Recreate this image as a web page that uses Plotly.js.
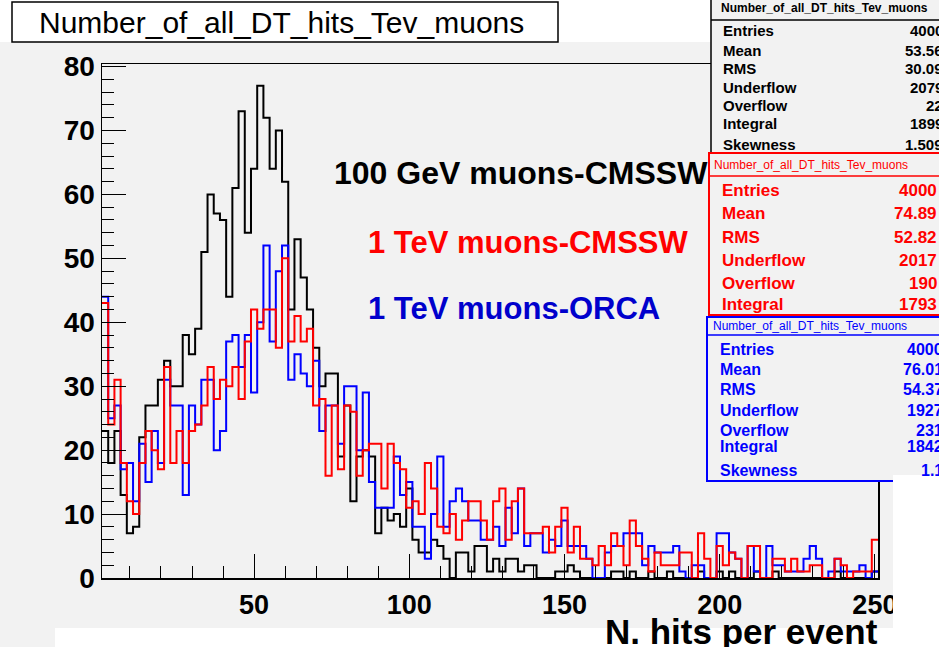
<!DOCTYPE html>
<html>
<head>
<meta charset="utf-8">
<script src="https://cdn.plot.ly/plotly-3.0.1.min.js"></script>
<style>html,body{margin:0;padding:0;background:#f2f2f2;}#chart{width:939px;height:647px;}</style>
</head>
<body>
<div id="chart"></div>
<script>
// ---- data: histogram of N. hits per event, 125 bins of width 2 starting at 1 ----
const binLow = 1;
const binWidth = 2;
const series100GeVCMSSW = [
  23,18,23,13,7,8,22,27,27,31,34,30,30,38,35,39,51,60,57,56,44,
  61,73,54,64,77,72,64,70,62,42,53,47,42,36,30,32,32,19,27,12,
  19,20,19,7,11,9,10,8,14,6,4,4,6,5,3,0,4,4,1,5,
  5,1,3,1,3,3,1,2,2,0,0,0,1,1,2,1,0,0,0,0,
  0,1,1,0,1,0,0,1,0,0,1,0,0,0,0,1,0,0,1,0,
  1,0,0,0,1,0,0,1,0,0,0,0,0,0,0,0,0,1,0,0,0,0,0,1
];
const series1TeVCMSSW = [
  43,24,31,18,12,10,18,23,20,17,33,18,23,18,23,24,27,33,28,31,30,
  33,28,37,42,39,42,42,36,50,37,41,37,39,27,28,16,27,17,27,26,
  16,20,21,21,14,21,18,17,11,12,10,18,14,8,7,10,6,9,12,12,
  9,6,12,14,6,12,14,7,7,7,8,4,8,11,4,8,3,3,2,5,
  2,7,5,2,9,5,3,1,4,2,2,2,4,4,0,7,3,0,5,2,
  4,3,0,5,5,0,0,3,3,1,3,1,1,2,2,0,0,3,2,0,1,1,1,6
];
const series1TeVORCA = [
  44,25,27,17,18,12,21,15,23,18,31,27,27,13,27,24,31,31,20,23,37,
  38,33,38,29,40,52,37,48,52,31,35,32,30,34,23,27,27,21,30,30,
  20,29,15,11,11,11,19,13,15,8,8,3,10,19,8,12,14,12,9,9,
  6,6,8,5,11,7,14,5,7,7,4,6,5,9,5,5,5,3,0,0,
  4,5,5,7,7,7,2,5,4,4,4,5,1,0,2,2,0,0,7,7,
  4,3,0,5,1,0,5,2,2,1,1,1,3,5,3,0,1,3,1,1,1,2,0,1
];
const seriesNames = ["100 GeV muons-CMSSW", "1 TeV muons-CMSSW", "1 TeV muons-ORCA"];
const histTitle = "Number_of_all_DT_hits_Tev_muons";
const statLabels100 = ["Entries","Mean","RMS","Underflow","Overflow","Integral","Skewness"];
const statValues100 = ["4000","53.56","30.09","2079","22","1899","1.509"];
const statLabelsRed = ["Entries","Mean","RMS","Underflow","Overflow","Integral"];
const statValuesRed = ["4000","74.89","52.82","2017","190","1793"];
const statLabelsBlue = ["Entries","Mean","RMS","Underflow","Overflow","Integral","Skewness"];
const statValuesBlue = ["4000","76.01","54.37","1927","231","1842","1.1"];
const xTitle = "N. hits per event";

// ---- layout geometry ----
const W = 939, H = 647;
const M = {l: 102, r: 61, t: 64, b: 69};
const PW = W - M.l - M.r, PH = H - M.t - M.b;
const px = x => (x - M.l) / PW;
const py = y => (H - M.b - y) / PH;
const FONT = "Liberation Sans, Arial, Helvetica, sans-serif";

function stepTrace(vals, color, name) {
  const edges = vals.map((_, i) => binLow + i * binWidth);
  edges.push(binLow + vals.length * binWidth);
  const ys = vals.slice();
  ys.push(vals[vals.length - 1]);
  return {x: edges, y: ys, type: "scatter", mode: "lines", name: name,
          line: {shape: "hv", color: color, width: 2}, hoverinfo: "skip"};
}

const traces = [
  stepTrace(series100GeVCMSSW, "#000000", seriesNames[0]),
  stepTrace(series1TeVORCA, "#0000ff", seriesNames[2]),
  stepTrace(series1TeVCMSSW, "#ff0000", seriesNames[1])
];

const shapes = [];
const annotations = [];
function rect(x0, y0, x1, y1, fill, lineColor, lw, layer) {
  shapes.push({type: "rect", xref: "paper", yref: "paper", x0: px(x0), x1: px(x1), y0: py(y1), y1: py(y0),
    fillcolor: fill, line: {color: lineColor || "rgba(0,0,0,0)", width: lw || 0}, layer: layer || "above"});
}
function hline(x0, x1, y, color, lw) {
  shapes.push({type: "line", xref: "paper", yref: "paper", x0: px(x0), x1: px(x1), y0: py(y), y1: py(y),
    line: {color: color, width: lw}, layer: "above"});
}
function text(t, x, y, size, color, anchor, bold) {
  annotations.push({text: t, xref: "paper", yref: "paper", x: px(x), y: py(y), xanchor: anchor || "left",
    yanchor: "middle", showarrow: false, borderpad: 0,
    font: {family: FONT, size: size, color: color, weight: bold ? "bold" : "normal"}});
}

// top white area + title box
rect(0, -2, 711, 42, "#ffffff", null, 0);
rect(12, 2, 558, 42, "#ffffff", "#000000", 1.5);
text(histTitle, 38, 22, 30, "#000000", "left", false);

// stat box: 100 GeV (black)
rect(711, -5, 960, 153, "#f2f2f2", "#000000", 1.5);
hline(711, 960, 20, "#000000", 1.5);
text(histTitle, 720, 8, 12, "#000000", "left", true);
const yb = [30.7, 50, 68.3, 87.3, 105.7, 123.3, 144];
statLabels100.forEach((l, i) => { text(l, 722, yb[i], 15, "#000000", "left", true); text(statValues100[i], 944, yb[i], 15, "#000000", "right", true); });

// stat box: 1 TeV CMSSW (red)
rect(709, 153, 960, 315, "#f2f2f2", "#ff0000", 2);
hline(709, 960, 176, "#ff0000", 1.5);
text(histTitle, 713, 165, 12, "#ff0000", "left", false);
const yr = [190.7, 213.3, 237.3, 260, 283.3, 304];
statLabelsRed.forEach((l, i) => { text(l, 721, yr[i], 17, "#ff0000", "left", true); text(statValuesRed[i], 938, yr[i], 17, "#ff0000", "right", true); });

// stat box: 1 TeV ORCA (blue)
rect(707, 317, 960, 481, "#f2f2f2", "#0000ff", 2);
hline(707, 960, 335, "#0000ff", 1.5);
text(histTitle, 712, 326, 12, "#0000ff", "left", false);
const yl = [349.3, 369.3, 389.3, 410, 430.7, 446.7, 470.7];
statLabelsBlue.forEach((l, i) => { text(l, 719, yl[i], 16, "#0000ff", "left", true); text(statValuesBlue[i], 944, yl[i], 16, "#0000ff", "right", true); });

// white strips at the right and bottom
rect(893, 475, 945, 650, "#ffffff", null, 0);
rect(55, 628, 893, 650, "#ffffff", null, 0);

// in-plot legend texts
text(seriesNames[0], 333, 173, 32, "#000000", "left", true);
text(seriesNames[1], 367, 242, 31, "#ff0000", "left", true);
text(seriesNames[2], 367, 308, 31, "#0000cc", "left", true);

// x axis title
text(xTitle, 879, 631, 35, "#000000", "right", true);

const layout = {
  width: W, height: H, margin: M,
  paper_bgcolor: "#f2f2f2", plot_bgcolor: "#f2f2f2",
  showlegend: false,
  xaxis: {range: [1, 251], tick0: 0, dtick: 50, ticks: "inside", ticklen: 24, tickwidth: 1, tickcolor: "#000",
    minor: {dtick: 10, tick0: 0, ticks: "inside", ticklen: 12, tickwidth: 1, tickcolor: "#000"},
    showline: true, linecolor: "#000", linewidth: 1.5, mirror: true, showgrid: false, zeroline: false,
    ticklabelstandoff: 2,
    tickfont: {family: FONT, size: 27, color: "#000", weight: "bold"}},
  yaxis: {range: [0, 80.4], tick0: 0, dtick: 10, ticks: "inside", ticklen: 24, tickwidth: 1, tickcolor: "#000",
    minor: {dtick: 2, tick0: 0, ticks: "inside", ticklen: 12, tickwidth: 1, tickcolor: "#000"},
    showline: true, linecolor: "#000", linewidth: 1.5, mirror: true, showgrid: false, zeroline: false,
    tickfont: {family: FONT, size: 28, color: "#000", weight: "bold"}},
  shapes: shapes, annotations: annotations
};
Plotly.newPlot("chart", traces, layout, {staticPlot: true, displayModeBar: false});
</script>
</body>
</html>
